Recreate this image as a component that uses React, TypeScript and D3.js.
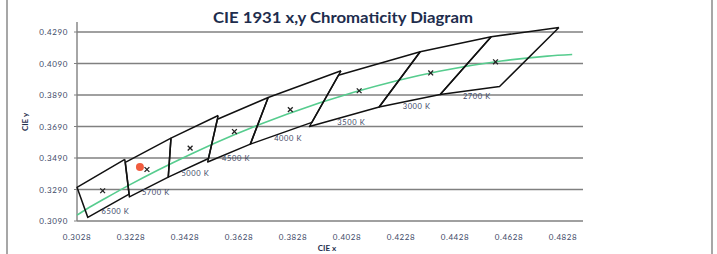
import React from "react";
import * as d3 from "d3";

// ANSI C78.377 quadrangles (CIE 1931 x,y)
const cctLabels = ["2700 K", "3000 K", "3500 K", "4000 K", "4500 K", "5000 K", "5700 K", "6500 K"];
const centerX = [0.4578, 0.4338, 0.4073, 0.3818, 0.3611, 0.3447, 0.3287, 0.3123];
const centerY = [0.4101, 0.4030, 0.3917, 0.3797, 0.3658, 0.3553, 0.3417, 0.3282];
// vertices: top-right, top-left, bottom-left, bottom-right
const quadX = [
  [0.4813, 0.4562, 0.4373, 0.4593],
  [0.4562, 0.4299, 0.4147, 0.4373],
  [0.4299, 0.3996, 0.3889, 0.4147],
  [0.4006, 0.3736, 0.3670, 0.3898],
  [0.3736, 0.3548, 0.3512, 0.3670],
  [0.3551, 0.3376, 0.3366, 0.3515],
  [0.3376, 0.3207, 0.3222, 0.3366],
  [0.3205, 0.3028, 0.3068, 0.3221],
];
const quadY = [
  [0.4319, 0.4260, 0.3893, 0.3944],
  [0.4260, 0.4165, 0.3814, 0.3893],
  [0.4165, 0.4015, 0.3690, 0.3814],
  [0.4044, 0.3874, 0.3578, 0.3716],
  [0.3874, 0.3736, 0.3465, 0.3578],
  [0.3760, 0.3616, 0.3369, 0.3487],
  [0.3616, 0.3462, 0.3243, 0.3369],
  [0.3481, 0.3304, 0.3113, 0.3261],
];
// Planckian locus
const locusX = [0.3028, 0.3064, 0.3135, 0.3221, 0.3325, 0.3451, 0.3608, 0.3805, 0.4053, 0.4369, 0.4599, 0.4770, 0.4862];
const locusY = [0.3127, 0.3166, 0.3236, 0.3318, 0.3411, 0.3516, 0.3636, 0.3768, 0.3907, 0.4041, 0.4106, 0.4137, 0.4147];
// measured sample
const sampleX = [0.3261];
const sampleY = [0.3433];

const xTicks = [0.3028, 0.3228, 0.3428, 0.3628, 0.3828, 0.4028, 0.4228, 0.4428, 0.4628, 0.4828];
const yTicks = [0.3090, 0.3290, 0.3490, 0.3690, 0.3890, 0.4090, 0.4290];
const xDomain = [0.3028, 0.4902];
const yDomain = [0.3090, 0.4290];

const W = 717;
const H = 254;
const plot = { left: 77, right: 583, top: 32, bottom: 221 };

export default function App() {
  const x = d3.scaleLinear().domain(xDomain).range([plot.left, plot.right]);
  const y = d3.scaleLinear().domain(yDomain).range([plot.bottom, plot.top]);
  const locusLine = d3
    .line<number>()
    .x((_, i) => x(locusX[i]))
    .y((_, i) => y(locusY[i]))
    .curve(d3.curveMonotoneX);
  const quadPath = (qi: number) => {
    const pts = quadX[qi].map((vx, k) => [x(vx), y(quadY[qi][k])] as [number, number]);
    return d3.line()(pts.concat([pts[0]])) as string;
  };
  const labelColor = "#3c4866";
  const font = "Lato, 'Open Sans', sans-serif";
  return (
    <svg width={W} height={H} style={{ position: "absolute", left: 0, top: 0, background: "#fff" }} fontFamily={font}>
      <rect x={0} y={0} width={W} height={H} fill="#fff" />
      {/* chart border sides */}
      <line x1={7} x2={7} y1={0} y2={H} stroke="#8a8a8a" strokeWidth={1.5} />
      <line x1={712} x2={712} y1={0} y2={H} stroke="#8a8a8a" strokeWidth={1.5} />
      {/* title */}
      <text x={343} y={23} textAnchor="middle" fontSize={15.5} fontWeight={700} fill="#1e2d4d" textLength={260} lengthAdjust="spacingAndGlyphs">
        CIE 1931 x,y Chromaticity Diagram
      </text>
      {/* gridlines */}
      {yTicks.map((t) => (
        <line key={"g" + t} x1={plot.left} x2={plot.right} y1={y(t)} y2={y(t)} stroke="#808080" strokeWidth={1.4} />
      ))}
      {/* y axis */}
      <line x1={plot.left} x2={plot.left} y1={22} y2={plot.bottom} stroke="#808080" strokeWidth={1.4} />
      {yTicks.map((t) => (
        <g key={"yt" + t}>
          <line x1={plot.left - 3} x2={plot.left} y1={y(t)} y2={y(t)} stroke="#808080" strokeWidth={1} />
          <text x={68} y={y(t) + 3} textAnchor="end" fontSize={8} letterSpacing={0.6} fill={labelColor}>
            {t.toFixed(4)}
          </text>
        </g>
      ))}
      {xTicks.map((t) => (
        <text key={"xt" + t} x={x(t)} y={240} textAnchor="middle" fontSize={8} letterSpacing={0.6} fill={labelColor}>
          {t.toFixed(4)}
        </text>
      ))}
      <text x={327} y={251} textAnchor="middle" fontSize={8} fontWeight={700} fill="#1e2d4d">CIE x</text>
      <text transform={`translate(28,${122}) rotate(-90)`} textAnchor="middle" fontSize={8} fontWeight={700} fill="#1e2d4d">CIE y</text>
      {/* planckian locus */}
      <path d={locusLine(locusX) as string} fill="none" stroke="#56cc8e" strokeWidth={1.6} />
      {/* quadrangles */}
      {cctLabels.map((lab, qi) => (
        <path key={"q" + lab} d={quadPath(qi)} fill="none" stroke="#111" strokeWidth={1.5} strokeLinejoin="round" />
      ))}
      {/* centers */}
      {cctLabels.map((lab, qi) => {
        const cx = x(centerX[qi]);
        const cy = y(centerY[qi]);
        const s = 2.4;
        return (
          <g key={"c" + lab} stroke="#222" strokeWidth={1.3}>
            <line x1={cx - s} x2={cx + s} y1={cy - s} y2={cy + s} />
            <line x1={cx - s} x2={cx + s} y1={cy + s} y2={cy - s} />
          </g>
        );
      })}
      {/* labels */}
      {cctLabels.map((lab, qi) => {
        const mx = (x(quadX[qi][2]) + x(quadX[qi][3])) / 2;
        const my = (y(quadY[qi][2]) + y(quadY[qi][3])) / 2;
        return (
          <text key={"l" + lab} x={mx + 7} y={my + 8} textAnchor="middle" fontSize={7.5} letterSpacing={0.6} fill={labelColor}>
            {lab}
          </text>
        );
      })}
      {/* sample */}
      {sampleX.map((sx, i) => (
        <circle key={"s" + i} cx={x(sx)} cy={y(sampleY[i])} r={4} fill="#f04a2a" opacity={0.9} />
      ))}
    </svg>
  );
}
